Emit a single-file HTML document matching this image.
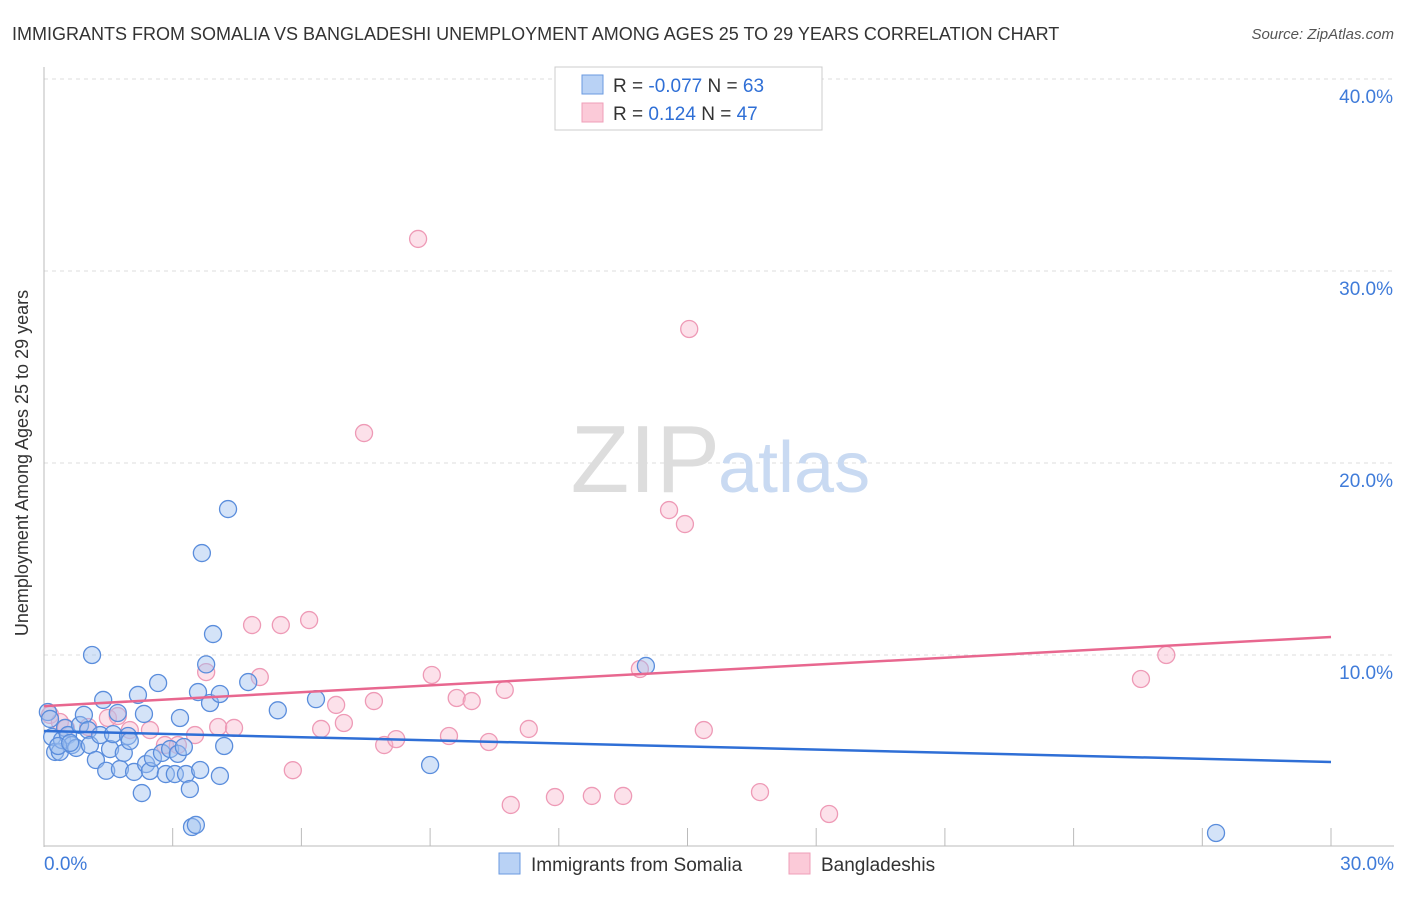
<!DOCTYPE html>
<html><head><meta charset="utf-8"><style>
body{margin:0;background:#fff;font-family:"Liberation Sans",sans-serif}
svg text{font-family:"Liberation Sans",sans-serif}
</style></head><body>
<svg width="1406" height="892">
<text x="12" y="40" font-size="18" fill="#333">IMMIGRANTS FROM SOMALIA VS BANGLADESHI UNEMPLOYMENT AMONG AGES 25 TO 29 YEARS CORRELATION CHART</text>
<text x="1394" y="39" font-size="15" fill="#555" font-style="italic" text-anchor="end">Source: ZipAtlas.com</text>
<g id="grid"></g>
<text x="720" y="492" font-size="96" fill="#ddd" text-anchor="end" font-family="Liberation Serif">ZIP</text>
<text x="718" y="492" font-size="72" fill="#c9daf2">atlas</text>
<g id="pts"></g>
<g id="lines"></g>
<text x="20" y="455" font-size="18" fill="#333" transform="rotate(-90 28 455)" text-anchor="middle">Unemployment Among Ages 25 to 29 years</text>
<g>
<rect x="555" y="67" width="267" height="63" fill="#fff" stroke="#ccc"/>
<rect x="582" y="75" width="21" height="19" fill="#b9d2f5" stroke="#6a9ae0"/>
<rect x="582" y="103" width="21" height="19" fill="#fbcad8" stroke="#ef9fb8"/>
<text x="613" y="92" font-size="19" fill="#333">R = <tspan fill="#2f6fd6">-0.077</tspan>   N = <tspan fill="#2f6fd6">63</tspan></text>
<text x="613" y="120" font-size="19" fill="#333">R =   <tspan fill="#2f6fd6">0.124</tspan>   N = <tspan fill="#2f6fd6">47</tspan></text>
</g>
<g>
<rect x="499" y="853" width="21" height="21" fill="#b9d2f5" stroke="#6a9ae0"/>
<text x="531" y="871" font-size="19" fill="#333">Immigrants from Somalia</text>
<rect x="789" y="853" width="21" height="21" fill="#fbcad8" stroke="#ef9fb8"/>
<text x="821" y="871" font-size="19" fill="#333">Bangladeshis</text>
</g>
</svg>
<script>
const yTicks=[10,20,30,40];
const xTickLabels=["0.0%","30.0%"];
const blueX=[0.09,0.19,0.26,0.37,0.42,0.49,0.56,0.65,0.75,0.84,0.93,1.03,1.07,1.12,1.21,1.31,1.38,1.45,1.54,1.61,1.72,1.77,1.86,1.96,2.00,2.10,2.19,2.28,2.33,2.38,2.47,2.54,2.66,2.75,2.84,2.94,3.05,3.12,3.17,3.26,3.31,3.40,3.45,3.54,3.59,3.64,3.68,3.78,3.87,3.94,4.10,4.10,4.20,4.29,4.76,5.45,6.34,9.00,14.03,27.32,0.14,0.33,0.61];
const blueY=[7.03,5.73,4.95,4.95,5.57,6.20,5.83,5.31,5.16,6.35,6.88,6.09,5.31,10.0,4.53,5.83,7.66,3.97,5.10,5.88,6.98,4.06,4.90,5.78,5.52,3.91,7.92,2.81,6.93,4.32,3.96,4.64,8.54,4.90,3.80,5.10,3.80,4.85,6.72,5.21,3.80,3.02,1.04,1.15,8.07,4.01,15.31,9.51,7.50,11.09,7.97,3.70,5.26,17.60,8.59,7.12,7.70,4.27,9.43,0.73,6.67,5.26,5.42];
const pinkX=[0.14,0.37,0.51,1.03,1.49,1.72,2.00,2.47,2.82,3.12,3.52,3.78,4.06,4.43,4.85,5.03,5.52,5.80,6.18,6.46,6.81,6.99,7.46,7.69,7.93,8.21,8.72,9.04,9.44,9.62,9.97,10.37,10.74,10.88,11.30,11.91,12.77,13.50,13.89,14.57,14.94,15.04,15.38,16.69,18.30,25.57,26.16];
const pinkY=[6.88,6.51,6.20,6.25,6.72,6.82,6.09,6.09,5.31,5.31,5.83,9.11,6.25,6.20,11.56,8.85,11.56,4.00,11.82,6.15,7.40,6.46,21.56,7.60,5.31,5.62,31.67,8.96,5.78,7.76,7.60,5.47,8.18,2.19,6.15,2.60,2.66,2.66,9.27,17.55,16.82,26.98,6.09,2.86,1.72,8.75,10.0];
const blueFit=[6.04,4.43], pinkFit=[7.34,10.94];
const X=v=>44+v/30*1287, Y=v=>847-v*19.2;
const NS="http://www.w3.org/2000/svg";
const grid=document.getElementById('grid');
function mk(t,a,p){const e=document.createElementNS(NS,t);for(const k in a)e.setAttribute(k,a[k]);p.appendChild(e);return e;}
yTicks.forEach(t=>{
 const l=mk('line',{x1:44,x2:1394,y1:Y(t),y2:Y(t),stroke:'#ddd','stroke-dasharray':'4,4'},grid);
 
 
 const tx=mk('text',{x:1393,y:Y(t)+24,'font-size':19,fill:'#3f7bd9','text-anchor':'end'},grid);
 tx.textContent=t.toFixed(1)+'%';
 
 
});
const ax=mk('line',{x1:44,x2:44,y1:67,y2:847,stroke:'#bbb'},grid);


const bx=mk('line',{x1:44,x2:1394,y1:846,y2:846,stroke:'#bbb'},grid);


for(let i=0;i<=10;i++){const tk=mk('line',{x1:X(i*3),x2:X(i*3),y1:828,y2:846,stroke:'#bbb'},grid);
 
 }
[[0,'start',44],[1,'end',1394]].forEach(([i,a,x])=>{const t=mk('text',{x:x,y:870,'font-size':19,fill:'#3f7bd9','text-anchor':a},grid);t.textContent=xTickLabels[i];
 
 });
const pts=document.getElementById('pts');
pinkX.forEach((v,i)=>{const c=mk('circle',{cx:X(v),cy:Y(pinkY[i]),r:8.5,fill:'rgba(248,180,202,0.4)',stroke:'#ee9ab6','stroke-width':1.3},pts);
 
 });
blueX.forEach((v,i)=>{const c=mk('circle',{cx:X(v),cy:Y(blueY[i]),r:8.5,fill:'rgba(160,194,240,0.45)',stroke:'#5a8ddc','stroke-width':1.3},pts);
 
 });
const lines=document.getElementById('lines');
const bl=mk('line',{x1:X(0),x2:X(30),y1:Y(blueFit[0]),y2:Y(blueFit[1]),stroke:'#2f6fd6','stroke-width':2.5},lines);


const pl=mk('line',{x1:X(0),x2:X(30),y1:Y(pinkFit[0]),y2:Y(pinkFit[1]),stroke:'#e8678f','stroke-width':2.5},lines);


</script>
</body></html>
